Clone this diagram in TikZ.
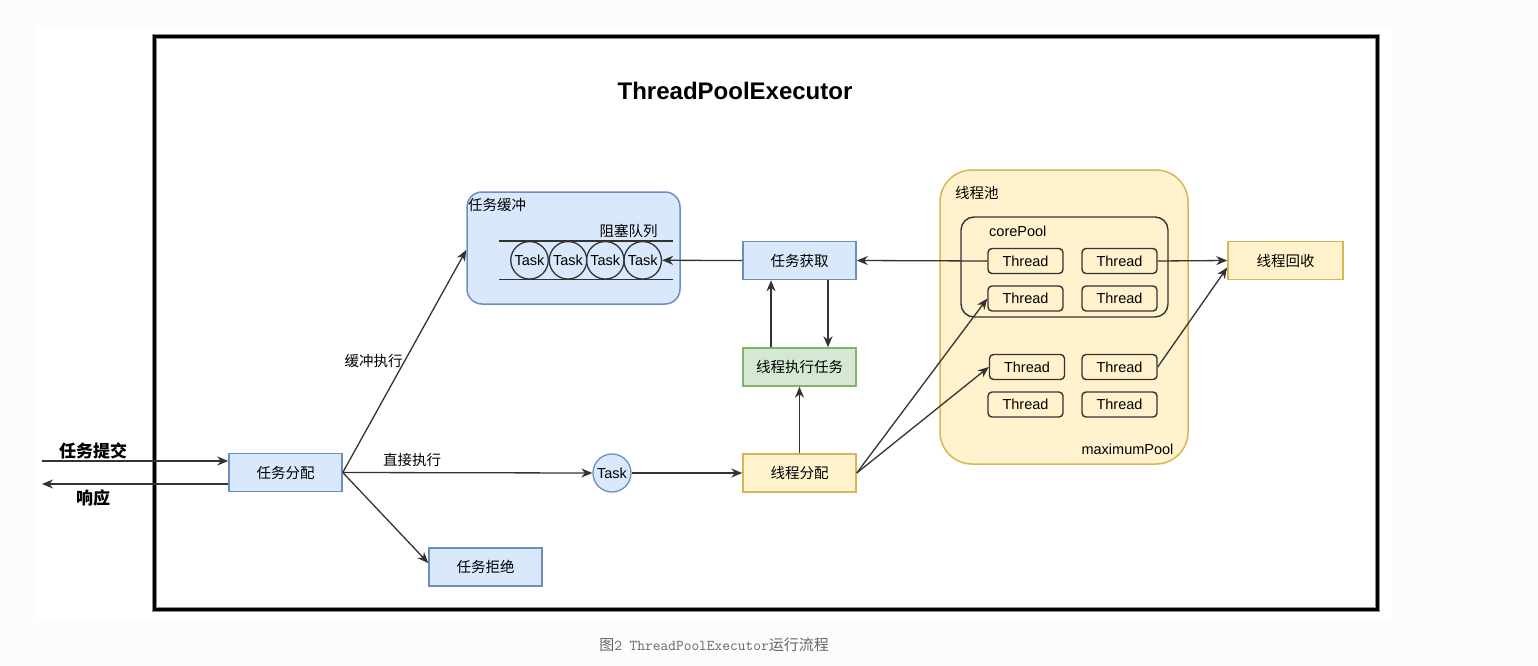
\documentclass[tikz,border=0pt]{standalone}
\usepackage{fontspec}
\setmainfont{Liberation Sans}
\newfontfamily\cjkfam{Noto Sans CJK SC}
\newfontfamily\capmono{Latin Modern Mono}
\usetikzlibrary{arrows.meta,calc}

\definecolor{bluefill}{HTML}{DAE8FC}
\definecolor{bluedraw}{HTML}{6C8EBF}
\definecolor{greenfill}{HTML}{D5E8D4}
\definecolor{greendraw}{HTML}{82B366}
\definecolor{yelfill}{HTML}{FFF2CC}
\definecolor{yeldraw}{HTML}{D6B656}
\definecolor{ink}{HTML}{333333}
\definecolor{pagebg}{HTML}{FCFCFC}
\definecolor{capgray}{HTML}{666666}

\tikzset{
  zhfont/.style={font=\cjkfam\fontsize{14.5}{17}\selectfont},
  enfont/.style={font=\fontsize{14.5}{17}\selectfont},
  box/.style={draw, line width=1.5pt, minimum width=113pt, minimum height=38pt,
              inner sep=0pt, zhfont},
  bluebox/.style={box, fill=bluefill, draw=bluedraw},
  greenbox/.style={box, fill=greenfill, draw=greendraw},
  yelbox/.style={box, fill=yelfill, draw=yeldraw},
  taskcirc/.style={circle, draw=ink, line width=1.3pt, minimum size=37.5pt,
                   inner sep=0pt, enfont},
  threadbox/.style={draw=ink, fill=yelfill, line width=1.4pt, rounded corners=4pt,
                    minimum width=75pt, minimum height=25pt, inner sep=0pt, enfont},
  conn/.style={draw=ink, line width=1.3pt,
               -{Stealth[length=11pt,width=9pt,inset=3.5pt]}},
  frameline/.style={line width=5pt, black!45},
  framecore/.style={line width=3pt, black},
}

\begin{document}
\begin{tikzpicture}[x=1pt,y=-1pt]
\useasboundingbox (0,0) rectangle (1538,666);
\fill[pagebg] (0,0) rectangle (1538,666);
\fill[white] (36,27) rectangle (1392,620);

% outer frame
\draw[frameline] (154.5,36.5) rectangle (1377,609);
\draw[framecore] (154.5,36.5) rectangle (1377,609);

\node[font=\bfseries\fontsize{24}{28}\selectfont] (title) at (735,91) {ThreadPoolExecutor};

% task buffer with the blocking queue
\node[draw=bluedraw, fill=bluefill, line width=1.5pt, rounded corners=15pt,
      minimum width=213pt, minimum height=112pt] (buffer) at (573.5,248) {};
\node[zhfont, anchor=west, inner sep=0pt] (bufferlabel) at (468,205) {任务缓冲};
\node[zhfont, inner sep=0pt] (queuelabel) at (628.5,231) {阻塞队列};
\draw[ink, line width=1.5pt] (499,241) -- (673,241);
\draw[ink, line width=1.5pt] (499,279.5) -- (673,279.5);
\node[taskcirc] (q1) at (529.5,260.3) {Task};
\node[taskcirc] (q2) at (568,260.3) {Task};
\node[taskcirc] (q3) at (605.3,260.3) {Task};
\node[taskcirc] (q4) at (642.7,260.3) {Task};

% main flow boxes
\node[bluebox] (assign) at (285.5,472.5) {任务分配};
\node[bluebox] (reject) at (485.5,567) {任务拒绝};
\node[taskcirc, fill=bluefill, draw=bluedraw, minimum size=38pt] (task) at (612,473) {Task};
\node[bluebox] (fetch) at (799.5,260.5) {任务获取};
\node[greenbox] (run) at (799.5,367) {线程执行任务};
\node[yelbox] (dispatch) at (799.5,473) {线程分配};
\node[yelbox, minimum width=115pt] (recycle) at (1285.5,260.5) {线程回收};

% thread pool
\node[draw=yeldraw, fill=yelfill, line width=1.5pt, rounded corners=32pt,
      minimum width=248pt, minimum height=294pt] (pool) at (1064,317) {};
\node[zhfont, anchor=west, inner sep=0pt] (poollabel) at (955,193) {线程池};
\node[draw=ink, line width=1.4pt, rounded corners=13pt,
      minimum width=207pt, minimum height=100pt] (core) at (1064.5,267) {};
\node[enfont, anchor=west, inner sep=0pt] (corelabel) at (989,231) {corePool};
\node[enfont, inner sep=0pt] (maxlabel) at (1127.5,449) {maximumPool};

\node[threadbox] (t11) at (1025.5,261) {Thread};
\node[threadbox] (t12) at (1119.5,261) {Thread};
\node[threadbox] (t21) at (1025.5,298.5) {Thread};
\node[threadbox] (t22) at (1119.5,298.5) {Thread};
\node[threadbox] (t31) at (1027,367) {Thread};
\node[threadbox] (t32) at (1119.5,367) {Thread};
\node[threadbox] (t41) at (1025.5,404.5) {Thread};
\node[threadbox] (t42) at (1119.5,404.5) {Thread};

% submit / response
\coordinate (inL) at (42,461);
\coordinate (outL) at (42,484);
\draw[conn] (inL) -- (assign.west |- inL);
\draw[conn] (assign.west |- outL) -- (outL);
\node[font=\cjkfam\bfseries\fontsize{17}{20}\selectfont] (submitlabel) at (93,451) {任务提交};
\node[font=\cjkfam\bfseries\fontsize{17}{20}\selectfont] (resplabel) at (93,498) {响应};

% dispatching of tasks
\draw[conn] (assign.east) -- ($(buffer.west)+(0,2)$);
\draw[conn] (assign.east) -- ($(reject.west)+(0,-4)$);
\draw[conn] (assign.east) -- (task.west);
\node[zhfont] (bufferexec) at (373.5,361.5) {缓冲执行};
\node[zhfont] (directexec) at (412,460) {直接执行};
\draw[conn] (task.east) -- (dispatch.west);

% worker loop
\draw[conn] (dispatch.north) -- (run.south);
\draw[conn] ($(run.north)+(-28.5,0)$) -- ($(fetch.south)+(-28.5,0)$);
\draw[conn] ($(fetch.south)+(28.5,0)$) -- ($(run.north)+(28.5,0)$);
\draw[conn] (fetch.west) -- (q4.east);
\draw[conn] (t11.west) -- (fetch.east);

% threads
\draw[conn] (dispatch.east) -- (t21.west);
\draw[conn] (dispatch.east) -- (t31.west);
\draw[conn] (t12.east) -- (recycle.west);
\draw[conn] (t32.east) -- ($(recycle.west)+(0,7)$);

% caption
\node[text=capgray, font=\fontsize{15}{18}\selectfont] (caption) at (714,645)
  {{\cjkfam 图}{\capmono 2 ThreadPoolExecutor}{\cjkfam 运行流程}};
\end{tikzpicture}
\end{document}
